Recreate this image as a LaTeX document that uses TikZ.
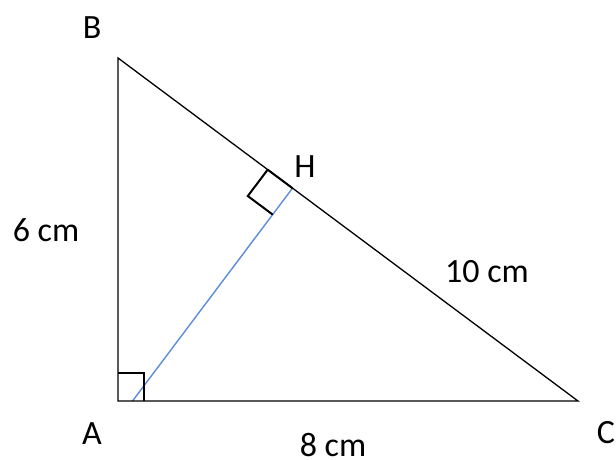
\documentclass[tikz,border=0pt]{standalone}
\usepackage{fontspec}
\setmainfont{Carlito}
\usetikzlibrary{calc}
\begin{document}
\begin{tikzpicture}[x=1pt,y=-1pt,
  side/.style={draw=black,line width=1.3pt},
  alt/.style={draw={rgb,255:red,91;green,140;blue,217},line width=1.4pt},
  rmark/.style={draw=black,line width=2pt},
  lbl/.style={font=\fontsize{34}{40}\selectfont,anchor=base,inner sep=0pt}]
\useasboundingbox (0,0) rectangle (616,460);
\coordinate (A) at (118,401);
\coordinate (B) at (118,58);
\coordinate (C) at (578,401);
\coordinate (H) at (292.5,188.2);
\coordinate (F) at (132.5,401);
\draw[alt] (H) -- (F);
\draw[side] (A) -- (B) -- (C) -- cycle;
\draw[rmark,line width=1.6pt] (A) ++(0,-28) -- ++(26,0) -- ++(0,28);
\path (H) -- ($(H)!31pt!(B)$) coordinate (H1);
\path (H) -- ($(H)!33pt!(F)$) coordinate (H2);
\draw[rmark] (H1) -- ($(H1)+(H2)-(H)$) -- (H2);
\draw[rmark] (H1) -- (H);
\node[lbl] (lB) at (92,39) {B};
\node[lbl] (lA) at (92,444) {A};
\node[lbl] (lC) at (606,443) {C};
\node[lbl] (lH) at (305,177) {H};
\node[lbl] (l6) at (46,241) {6 cm};
\node[lbl] (l10) at (487,282) {10 cm};
\node[lbl] (l8) at (333,456) {8 cm};
\end{tikzpicture}
\end{document}
